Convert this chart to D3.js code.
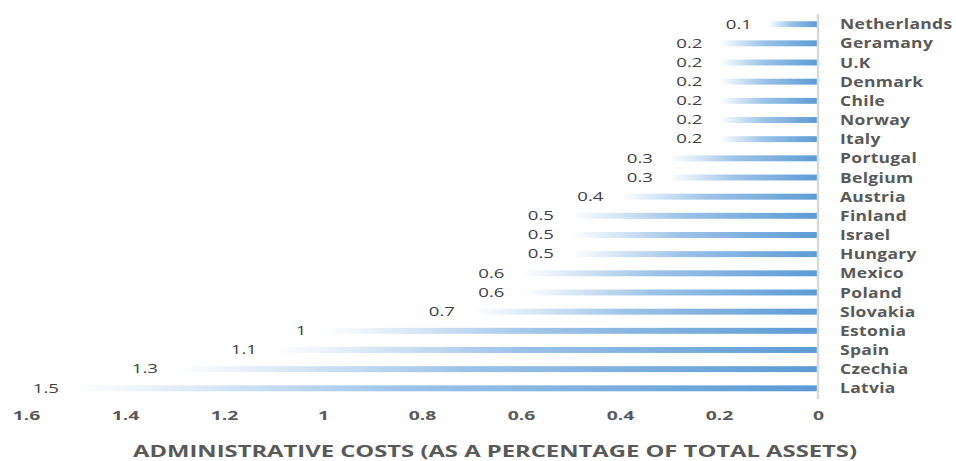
<!DOCTYPE html>
<html>
<head>
<meta charset="utf-8">
<script src="https://cdn.jsdelivr.net/npm/d3@7/dist/d3.min.js"></script>
<style>
  html, body { margin: 0; padding: 0; background: #fff; }
  svg { display: block; }
</style>
</head>
<body>
<svg id="chart" width="956" height="461"></svg>
<script>
// Administrative costs by country, as a percentage of total assets
const countries = ["Netherlands", "Geramany", "U.K", "Denmark", "Chile", "Norway", "Italy",
  "Portugal", "Belgium", "Austria", "Finland", "Israel", "Hungary", "Mexico", "Poland",
  "Slovakia", "Estonia", "Spain", "Czechia", "Latvia"];
const costs = [0.1, 0.2, 0.2, 0.2, 0.2, 0.2, 0.2, 0.3, 0.3, 0.4, 0.5, 0.5, 0.5, 0.6, 0.6,
  0.7, 1, 1.1, 1.3, 1.5];
const tickValues = [1.6, 1.4, 1.2, 1, 0.8, 0.6, 0.4, 0.2, 0];
const axisTitle = "ADMINISTRATIVE COSTS (AS A PERCENTAGE OF TOTAL ASSETS)";

const svg = d3.select("#chart");
const FONT = "Open Sans, sans-serif";

// reversed axis: zero sits on the right, bars grow leftward
const x = d3.scaleLinear().domain([0, 1.6]).range([818, 26]);
const y = d3.scaleBand().domain(countries).range([14.5, 398]).paddingInner(0.69).paddingOuter(0.35);

const defs = svg.append("defs");
const grad = defs.append("linearGradient")
  .attr("id", "barGrad")
  .attr("x1", "0%").attr("x2", "100%").attr("y1", "0%").attr("y2", "0%");
grad.append("stop").attr("offset", "0%").attr("stop-color", "#ffffff");
grad.append("stop").attr("offset", "45%").attr("stop-color", "#9cc2e8");
grad.append("stop").attr("offset", "100%").attr("stop-color", "#5b9bd5");

const data = countries.map((c, i) => ({ country: c, value: costs[i] }));

svg.append("g").selectAll("rect")
  .data(data)
  .join("rect")
  .attr("x", d => x(d.value))
  .attr("y", d => y(d.country))
  .attr("width", d => x(0) - x(d.value))
  .attr("height", y.bandwidth())
  .attr("fill", "url(#barGrad)");

// vertical baseline at zero
svg.append("line")
  .attr("x1", x(0)).attr("x2", x(0))
  .attr("y1", 14).attr("y2", 399)
  .attr("stroke", "#d9d9d9").attr("stroke-width", 2.5);

// labels use a wide, horizontally stretched face
const rowMid = d => y(d.country) + y.bandwidth() / 2;

// value labels at the outer end of each bar
svg.append("g").selectAll("text")
  .data(data)
  .join("text")
  .attr("transform", d => `translate(${x(d.value) - 16.5},${rowMid(d)}) scale(1.55,1)`)
  .attr("dy", "0.36em")
  .attr("text-anchor", "end")
  .attr("font-family", FONT)
  .attr("font-size", 12)
  .attr("fill", "#404040")
  .text(d => d.value);

// category labels to the right of the baseline
svg.append("g").selectAll("text")
  .data(data)
  .join("text")
  .attr("transform", d => `translate(840,${rowMid(d)}) scale(1.25,1)`)
  .attr("dy", "0.36em")
  .attr("font-family", FONT)
  .attr("font-weight", "bold")
  .attr("font-size", 14)
  .attr("letter-spacing", 0.25)
  .attr("fill", "#595959")
  .text(d => d.country);

// bottom value axis
const axis = d3.axisBottom(x).tickValues(tickValues).tickSize(0).tickFormat(d3.format("~g"));
const gAxis = svg.append("g").attr("transform", "translate(0,408)").call(axis);
gAxis.select(".domain").remove();
gAxis.selectAll("text")
  .attr("transform", "scale(1.55,1)")
  .attr("font-family", FONT)
  .attr("font-weight", "bold")
  .attr("font-size", 12.5)
  .attr("fill", "#595959");

svg.append("text")
  .attr("x", 495)
  .attr("y", 457)
  .attr("text-anchor", "middle")
  .attr("font-family", FONT)
  .attr("font-weight", "bold")
  .attr("font-size", 16.5)
  .attr("textLength", 724)
  .attr("lengthAdjust", "spacingAndGlyphs")
  .attr("fill", "#595959")
  .text(axisTitle);
</script>
</body>
</html>
